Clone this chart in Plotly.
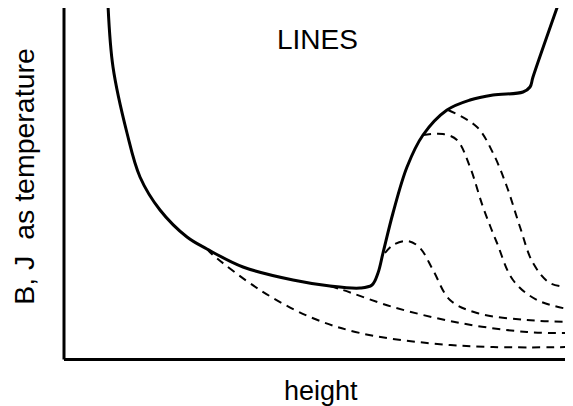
import plotly.graph_objects as go

# schematic: coordinates are in a 0..509 (height) by 0..350 (value) frame
main_x = [108, 113, 127, 140, 160, 187, 207, 243, 293, 330, 360, 372, 378, 383, 393, 407, 423, 447, 470, 493, 523, 530, 533, 558]
main_y = [353, 291, 225, 181, 148, 121, 109, 91, 78, 72, 70, 73, 85, 105, 145, 191, 223, 248, 258, 263, 266, 271, 281, 353]

dash1_x = [207, 213, 260, 310, 360, 427, 493, 573]
dash1_y = [109, 103, 68, 41, 25, 15, 11, 11]

dash2_x = [330, 343, 393, 460, 527, 573]
dash2_y = [72, 68, 51, 35, 26, 25]

dash3_x = [385, 393, 408, 420, 433, 450, 477, 527, 573]
dash3_y = [105, 113, 117, 110, 88, 58, 45, 38, 36]

dash4_x = [423, 443, 457, 470, 483, 497, 513, 537, 573]
dash4_y = [223, 224, 218, 191, 151, 115, 78, 58, 48]

dash5_x = [448, 477, 493, 507, 520, 533, 550, 573]
dash5_y = [248, 231, 205, 171, 131, 95, 75, 71]

fig = go.Figure()
for xs, ys in [(dash1_x, dash1_y), (dash2_x, dash2_y), (dash3_x, dash3_y),
               (dash4_x, dash4_y), (dash5_x, dash5_y)]:
    fig.add_trace(go.Scatter(x=xs, y=ys, mode="lines",
                             line=dict(color="black", width=2, dash="8px,6px",
                                       shape="spline", smoothing=1)))
fig.add_trace(go.Scatter(x=main_x, y=main_y, mode="lines",
                         line=dict(color="black", width=3, shape="spline", smoothing=1)))

fnt = "Liberation Sans, Arial, sans-serif"
fig.add_annotation(x=317, y=319, xref="x", yref="y", text="LINES", showarrow=False,
                   font=dict(family=fnt, size=28, color="black"))
fig.add_annotation(x=0.505, y=-0.094, xref="paper", yref="paper", text="height",
                   xanchor="center", yanchor="middle",
                   showarrow=False, font=dict(family=fnt, size=27, color="black"))
fig.add_annotation(x=-0.079, y=0.52, xref="paper", yref="paper", textangle=-90,
                   xanchor="center", yanchor="middle",
                   text="B, J\u00a0\u00a0as temperature", showarrow=False,
                   font=dict(family=fnt, size=28.5, color="black"))

# y axis drawn as a shape so it can reach a bit above the plot area
fig.add_shape(type="line", xref="paper", yref="paper", x0=0, x1=0, y0=-0.004, y1=1.01,
              line=dict(color="black", width=3))

fig.update_xaxes(range=[64, 573], showline=True, linewidth=3, linecolor="black",
                 showgrid=False, zeroline=False, showticklabels=False, ticks="")
fig.update_yaxes(range=[0, 350], showline=False,
                 showgrid=False, zeroline=False, showticklabels=False, ticks="")
# page body adds an 8px margin, so the figure is shrunk and shifted to compensate
fig.update_layout(width=565, height=398, margin=dict(l=56, r=0, t=0, b=48),
                  plot_bgcolor="white", paper_bgcolor="white", showlegend=False)
fig.write_html("out.html")
